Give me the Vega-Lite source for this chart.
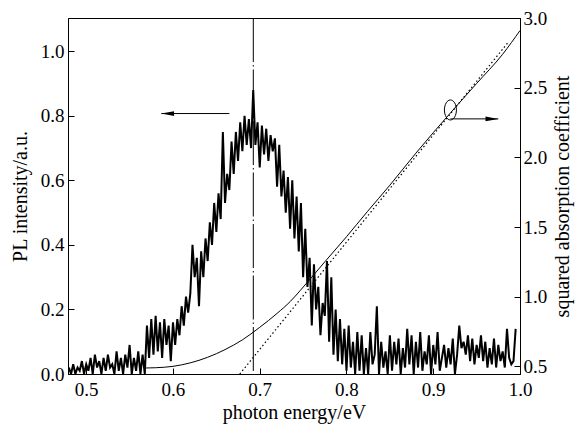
{
  "$schema": "https://vega.github.io/schema/vega-lite/v6.json",
  "width": 452,
  "height": 356,
  "autosize": "none",
  "padding": {"left": 68, "top": 18, "right": 55, "bottom": 50},
  "background": "white",
  "config": {
    "view": {"stroke": "black", "strokeWidth": 1},
    "font": "Liberation Serif",
    "axis": {
      "domainColor": "black", "tickColor": "black", "labelColor": "black", "titleColor": "black",
      "labelFont": "Liberation Serif", "titleFont": "Liberation Serif",
      "labelFontSize": 19, "titleFontSize": 20, "titleFontWeight": "normal",
      "grid": false, "tickSize": -6, "labelPadding": 10, "labelFlush": false, "labelOverlap": false
    }
  },
  "datasets": {
    "pl": [
      {"x":0.4800,"y":0.02},{"x":0.4825,"y":0.0},{"x":0.4850,"y":0.03},{"x":0.4875,"y":0.0},{"x":0.4900,"y":0.02},
      {"x":0.4925,"y":0.01},{"x":0.4950,"y":0.04},{"x":0.4975,"y":0.0},{"x":0.5000,"y":0.03},{"x":0.5025,"y":0.01},
      {"x":0.5050,"y":0.05},{"x":0.5075,"y":0.0},{"x":0.5100,"y":0.06},{"x":0.5125,"y":0.02},{"x":0.5150,"y":0.04},
      {"x":0.5175,"y":0.0},{"x":0.5200,"y":0.05},{"x":0.5225,"y":0.01},{"x":0.5250,"y":0.06},{"x":0.5275,"y":0.02},
      {"x":0.5300,"y":0.03},{"x":0.5325,"y":0.0},{"x":0.5350,"y":0.07},{"x":0.5375,"y":0.01},{"x":0.5400,"y":0.05},
      {"x":0.5425,"y":0.0},{"x":0.5450,"y":0.06},{"x":0.5475,"y":0.02},{"x":0.5500,"y":0.09},{"x":0.5525,"y":0.0},
      {"x":0.5550,"y":0.05},{"x":0.5575,"y":0.01},{"x":0.5600,"y":0.07},{"x":0.5625,"y":0.0},{"x":0.5650,"y":0.06},
      {"x":0.5675,"y":0.0},{"x":0.5700,"y":0.15},{"x":0.5725,"y":0.05},{"x":0.5750,"y":0.17},{"x":0.5775,"y":0.06},
      {"x":0.5800,"y":0.18},{"x":0.5825,"y":0.07},{"x":0.5850,"y":0.16},{"x":0.5875,"y":0.05},{"x":0.5900,"y":0.17},
      {"x":0.5925,"y":0.09},{"x":0.5950,"y":0.15},{"x":0.5975,"y":0.04},{"x":0.6000,"y":0.16},{"x":0.6025,"y":0.09},
      {"x":0.6050,"y":0.17},{"x":0.6075,"y":0.12},{"x":0.6100,"y":0.21},{"x":0.6125,"y":0.15},{"x":0.6150,"y":0.24},
      {"x":0.6175,"y":0.19},{"x":0.6200,"y":0.25},{"x":0.6225,"y":0.40},{"x":0.6250,"y":0.30},{"x":0.6275,"y":0.36},
      {"x":0.6300,"y":0.21},{"x":0.6325,"y":0.38},{"x":0.6350,"y":0.30},{"x":0.6375,"y":0.42},{"x":0.6400,"y":0.35},
      {"x":0.6425,"y":0.47},{"x":0.6450,"y":0.40},{"x":0.6475,"y":0.53},{"x":0.6500,"y":0.44},{"x":0.6525,"y":0.56},
      {"x":0.6550,"y":0.48},{"x":0.6575,"y":0.75},{"x":0.6600,"y":0.53},{"x":0.6625,"y":0.62},{"x":0.6650,"y":0.57},
      {"x":0.6675,"y":0.72},{"x":0.6700,"y":0.62},{"x":0.6725,"y":0.75},{"x":0.6750,"y":0.66},{"x":0.6775,"y":0.78},
      {"x":0.6800,"y":0.69},{"x":0.6825,"y":0.80},{"x":0.6850,"y":0.71},{"x":0.6875,"y":0.79},{"x":0.6900,"y":0.70},
      {"x":0.6925,"y":0.88},{"x":0.6950,"y":0.71},{"x":0.6975,"y":0.78},{"x":0.7000,"y":0.64},{"x":0.7025,"y":0.77},
      {"x":0.7050,"y":0.68},{"x":0.7075,"y":0.76},{"x":0.7100,"y":0.66},{"x":0.7125,"y":0.74},{"x":0.7150,"y":0.69},
      {"x":0.7175,"y":0.73},{"x":0.7200,"y":0.58},{"x":0.7225,"y":0.71},{"x":0.7250,"y":0.55},{"x":0.7275,"y":0.63},
      {"x":0.7300,"y":0.50},{"x":0.7325,"y":0.61},{"x":0.7350,"y":0.45},{"x":0.7375,"y":0.60},{"x":0.7400,"y":0.42},
      {"x":0.7425,"y":0.55},{"x":0.7450,"y":0.38},{"x":0.7475,"y":0.53},{"x":0.7500,"y":0.30},{"x":0.7525,"y":0.45},
      {"x":0.7550,"y":0.27},{"x":0.7575,"y":0.36},{"x":0.7600,"y":0.15},{"x":0.7625,"y":0.34},{"x":0.7650,"y":0.20},
      {"x":0.7675,"y":0.27},{"x":0.7700,"y":0.12},{"x":0.7725,"y":0.22},{"x":0.7750,"y":0.18},{"x":0.7775,"y":0.35},
      {"x":0.7800,"y":0.10},{"x":0.7825,"y":0.30},{"x":0.7850,"y":0.06},{"x":0.7875,"y":0.20},{"x":0.7900,"y":0.04},
      {"x":0.7925,"y":0.17},{"x":0.7950,"y":0.03},{"x":0.7975,"y":0.14},{"x":0.8000,"y":0.01},{"x":0.8025,"y":0.15},
      {"x":0.8050,"y":0.02},{"x":0.8075,"y":0.10},{"x":0.8100,"y":0.0},{"x":0.8125,"y":0.13},{"x":0.8150,"y":0.01},
      {"x":0.8175,"y":0.12},{"x":0.8200,"y":0.0},{"x":0.8225,"y":0.08},{"x":0.8250,"y":0.0},{"x":0.8275,"y":0.13},
      {"x":0.8300,"y":0.03},{"x":0.8325,"y":0.06},{"x":0.8350,"y":0.21},{"x":0.8375,"y":0.0},{"x":0.8400,"y":0.10},
      {"x":0.8425,"y":0.02},{"x":0.8450,"y":0.07},{"x":0.8475,"y":0.0},{"x":0.8500,"y":0.12},{"x":0.8525,"y":0.01},
      {"x":0.8550,"y":0.10},{"x":0.8575,"y":0.03},{"x":0.8600,"y":0.11},{"x":0.8625,"y":0.0},{"x":0.8650,"y":0.08},
      {"x":0.8675,"y":0.02},{"x":0.8700,"y":0.14},{"x":0.8725,"y":0.03},{"x":0.8750,"y":0.12},{"x":0.8775,"y":0.0},
      {"x":0.8800,"y":0.10},{"x":0.8825,"y":0.02},{"x":0.8850,"y":0.13},{"x":0.8875,"y":0.01},{"x":0.8900,"y":0.07},
      {"x":0.8925,"y":0.03},{"x":0.8950,"y":0.12},{"x":0.8975,"y":0.0},{"x":0.9000,"y":0.09},{"x":0.9025,"y":0.03},
      {"x":0.9050,"y":0.13},{"x":0.9075,"y":0.01},{"x":0.9100,"y":0.05},{"x":0.9125,"y":0.09},{"x":0.9150,"y":0.02},
      {"x":0.9175,"y":0.08},{"x":0.9200,"y":0.03},{"x":0.9225,"y":0.11},{"x":0.9250,"y":0.0},{"x":0.9275,"y":0.06},
      {"x":0.9300,"y":0.15},{"x":0.9325,"y":0.08},{"x":0.9350,"y":0.10},{"x":0.9375,"y":0.06},{"x":0.9400,"y":0.12},
      {"x":0.9425,"y":0.04},{"x":0.9450,"y":0.11},{"x":0.9475,"y":0.03},{"x":0.9500,"y":0.09},{"x":0.9525,"y":0.05},
      {"x":0.9550,"y":0.12},{"x":0.9575,"y":0.04},{"x":0.9600,"y":0.10},{"x":0.9625,"y":0.02},{"x":0.9650,"y":0.08},
      {"x":0.9675,"y":0.03},{"x":0.9700,"y":0.11},{"x":0.9725,"y":0.02},{"x":0.9750,"y":0.09},{"x":0.9775,"y":0.04},
      {"x":0.9800,"y":0.07},{"x":0.9825,"y":0.02},{"x":0.9850,"y":0.14},{"x":0.9875,"y":0.05},{"x":0.9900,"y":0.03},
      {"x":0.9925,"y":0.04},{"x":0.9950,"y":0.14}
    ],
    "absorb": [
      {"x":0.568,"y":0.488},{"x":0.58,"y":0.49},{"x":0.60,"y":0.50},{"x":0.62,"y":0.525},{"x":0.64,"y":0.565},
      {"x":0.66,"y":0.62},{"x":0.68,"y":0.69},{"x":0.70,"y":0.78},{"x":0.72,"y":0.88},{"x":0.7353,"y":0.966},
      {"x":0.7468,"y":1.045},{"x":0.76,"y":1.14},{"x":0.7757,"y":1.255},{"x":0.80,"y":1.43},{"x":0.824,"y":1.61},
      {"x":0.85,"y":1.80},{"x":0.88,"y":2.03},{"x":0.92,"y":2.32},{"x":0.95,"y":2.53},{"x":0.98,"y":2.74},{"x":1.0,"y":2.91}
    ],
    "tangent": [{"x":0.677,"y":0.445},{"x":0.987,"y":2.83}],
    "leftArrow": [{"x":0.5865,"x2":0.665,"y":0.807}],
    "rightArrow": [{"x":0.9198,"x2":0.975,"y":2.276}],
    "ellipse": [{"x":0.9198,"y":2.34}],
    "marker": [{"x":0.6926}]
  },
  "layer": [
    {
      "layer": [
        {
          "data": {"name": "marker"},
          "mark": {"type": "rule", "color": "black", "strokeWidth": 1, "strokeDash": [44, 3, 1.5, 3]},
          "encoding": {
            "x": {"field": "x", "type": "quantitative", "scale": {"domain": [0.479, 1.0], "nice": false, "zero": false},
              "axis": {"title": "photon energy/eV", "values": [0.5, 0.6, 0.7, 0.8, 0.9, 1.0], "format": ".1f", "labelPadding": 12, "titleX": 226, "titleY": 44, "titleAlign": "center", "titleBaseline": "alphabetic"}}
          }
        },
        {
          "data": {"name": "pl"},
          "mark": {"type": "line", "color": "black", "strokeWidth": 2, "clip": true},
          "encoding": {
            "x": {"field": "x", "type": "quantitative"},
            "y": {"field": "y", "type": "quantitative", "scale": {"domain": [0, 1.103], "nice": false, "zero": false},
              "axis": {"title": "PL intensity/a.u.", "orient": "left", "values": [0, 0.2, 0.4, 0.6, 0.8, 1.0], "format": ".1f", "titlePadding": 10}}
          }
        },
        {
          "data": {"name": "leftArrow"},
          "mark": {"type": "rule", "color": "black", "strokeWidth": 1},
          "encoding": {
            "x": {"field": "x", "type": "quantitative"},
            "x2": {"field": "x2"},
            "y": {"field": "y", "type": "quantitative"}
          }
        },
        {
          "data": {"name": "leftArrow"},
          "mark": {"type": "point", "shape": "M0,0 L1.6,-0.3 L1.6,0.3 Z", "filled": true, "color": "black", "size": 256, "opacity": 1},
          "encoding": {
            "x": {"field": "x", "type": "quantitative"},
            "y": {"field": "y", "type": "quantitative"}
          }
        }
      ]
    },
    {
      "layer": [
        {
          "data": {"name": "absorb"},
          "mark": {"type": "line", "color": "black", "strokeWidth": 1, "interpolate": "monotone", "clip": true},
          "encoding": {
            "x": {"field": "x", "type": "quantitative"},
            "y": {"field": "y", "type": "quantitative", "scale": {"domain": [0.445, 3.0], "nice": false, "zero": false},
              "axis": {"title": "squared absorption coefficient", "orient": "right", "values": [0.5, 1.0, 1.5, 2.0, 2.5, 3.0], "format": ".1f", "labelPadding": 9, "titleAngle": 270, "titleX": 42, "titleY": 178, "titleAlign": "center", "titleBaseline": "middle"}}
          }
        },
        {
          "data": {"name": "tangent"},
          "mark": {"type": "line", "color": "black", "strokeWidth": 1.2, "strokeDash": [1.5, 2.5], "clip": true},
          "encoding": {
            "x": {"field": "x", "type": "quantitative"},
            "y": {"field": "y", "type": "quantitative"}
          }
        },
        {
          "data": {"name": "rightArrow"},
          "mark": {"type": "rule", "color": "black", "strokeWidth": 1},
          "encoding": {
            "x": {"field": "x", "type": "quantitative"},
            "x2": {"field": "x2"},
            "y": {"field": "y", "type": "quantitative"}
          }
        },
        {
          "data": {"name": "rightArrow"},
          "mark": {"type": "point", "shape": "M0,0 L-1.6,-0.3 L-1.6,0.3 Z", "filled": true, "color": "black", "size": 256, "opacity": 1},
          "encoding": {
            "x": {"field": "x2", "type": "quantitative"},
            "y": {"field": "y", "type": "quantitative"}
          }
        },
        {
          "data": {"name": "ellipse"},
          "mark": {"type": "point", "shape": "M-0.6,0 A0.6,1 0 1,0 0.6,0 A0.6,1 0 1,0 -0.6,0 Z", "filled": false, "color": "black", "strokeWidth": 1, "size": 400, "opacity": 1},
          "encoding": {
            "x": {"field": "x", "type": "quantitative"},
            "y": {"field": "y", "type": "quantitative"}
          }
        }
      ]
    }
  ],
  "resolve": {"scale": {"y": "independent"}, "axis": {"y": "independent"}}
}
